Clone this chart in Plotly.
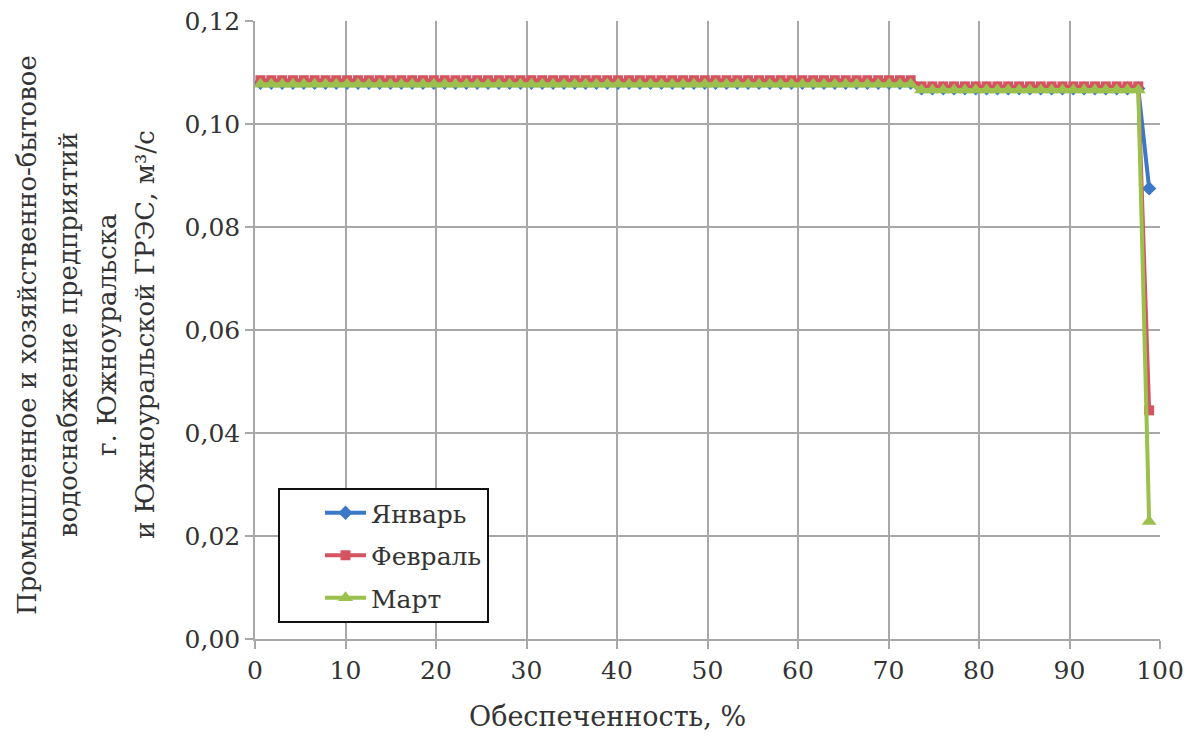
import plotly.graph_objects as go

# Exceedance probability (%) of each ranked value
prob = [0.60, 1.80, 3.00, 4.19, 5.39, 6.59, 7.79, 8.98, 10.18, 11.38,
        12.58, 13.77, 14.97, 16.17, 17.37, 18.56, 19.76, 20.96, 22.15, 23.35,
        24.55, 25.75, 26.95, 28.14, 29.34, 30.54, 31.74, 32.94, 34.13, 35.33,
        36.53, 37.72, 38.92, 40.12, 41.32, 42.52, 43.71, 44.91, 46.11, 47.31,
        48.50, 49.70, 50.90, 52.10, 53.29, 54.49, 55.69, 56.89, 58.08, 59.28,
        60.48, 61.68, 62.87, 64.07, 65.27, 66.47, 67.66, 68.86, 70.06, 71.26,
        72.45, 73.65, 74.85, 76.05, 77.24, 78.44, 79.64, 80.84, 82.03, 83.23,
        84.43, 85.63, 86.82, 88.02, 89.22, 90.42, 91.61, 92.81, 94.01, 95.21,
        96.40, 97.60, 98.80]

jan = [0.1080] * 61 + [0.1069] * 21 + [0.0875]
feb = [0.1085] * 61 + [0.1073] * 21 + [0.0444]
mar = [0.1077] * 61 + [0.1066] * 21 + [0.0228]

series_names = ["Январь", "Февраль", "Март"]
colors = ["#3C78C8", "#D45561", "#9CC04E"]
symbols = ["diamond", "square", "triangle-up"]
sizes = [11, 10, 13]

x_title = "Обеспеченность, %"
y_title_lines = ["Промышленное и хозяйственно-бытовое",
                 "водоснабжение предприятий",
                 "г. Южноуральска",
                 "и Южноуральской ГРЭС, м³/с"]

FONT = "DejaVu Serif"
TXT = "#333333"
GRID = "#A8A8A8"

fig = go.Figure()
for name, ys, c, s, sz in zip(series_names, [jan, feb, mar], colors, symbols, sizes):
    fig.add_trace(go.Scatter(
        x=prob, y=ys, name=name, mode="lines+markers", legendgroup=name,
        line=dict(color=c, width=4),
        marker=dict(symbol=s, size=sz, color=c, line=dict(width=0)),
    ))

L, R, T, B = 255, 1194 - 1160, 21, 736 - 639
W, H = 1194 - L - R, 736 - T - B

annotations = []
line_x_px = [27, 68, 107, 145]
for txt, px in zip(y_title_lines, line_x_px):
    annotations.append(dict(
        text=txt, textangle=-90, xref="paper", yref="paper",
        x=(px - L) / W, y=(639 - 335) / H, xanchor="center", yanchor="middle",
        showarrow=False, font=dict(family=FONT, size=26, color=TXT)))
annotations.append(dict(
    text=x_title, xref="paper", yref="paper",
    x=(607 - L) / W, y=(639 - 716) / H, xanchor="center", yanchor="middle",
    showarrow=False, font=dict(family=FONT, size=27, color=TXT)))

fig.update_layout(
    width=1194, height=736,
    margin=dict(l=L, r=R, t=T, b=B),
    paper_bgcolor="white", plot_bgcolor="white",
    separators=", ",
    font=dict(family=FONT, size=25, color=TXT),
    showlegend=True,
    legend=dict(
        x=(278 - L) / W, y=(639 - 488) / H, xanchor="left", yanchor="top",
        bgcolor="white", bordercolor="#111111", borderwidth=2,
        font=dict(family=FONT, size=25, color=TXT),
        indentation=40, itemwidth=41, tracegroupgap=7,
    ),
    annotations=annotations,
    xaxis=dict(
        range=[0, 100], tick0=0, dtick=10, showgrid=True, gridcolor=GRID, gridwidth=1.5,
        showline=True, linecolor=GRID, linewidth=1.5, zeroline=False,
        ticks="outside", ticklen=8, tickcolor=GRID, tickwidth=1.5,
        tickfont=dict(family=FONT, size=25, color=TXT), automargin=False,
    ),
    yaxis=dict(
        range=[0, 0.12], tick0=0, dtick=0.02, tickformat=".2f",
        showgrid=True, gridcolor=GRID, gridwidth=1.5,
        showline=True, linecolor=GRID, linewidth=1.5, zeroline=False,
        ticks="outside", ticklen=8, tickcolor=GRID, tickwidth=1.5,
        tickfont=dict(family=FONT, size=25, color=TXT), automargin=False,
    ),
)

fig.write_html("out.html", config={"displayModeBar": False},
               post_script="document.body.style.margin='0';")
